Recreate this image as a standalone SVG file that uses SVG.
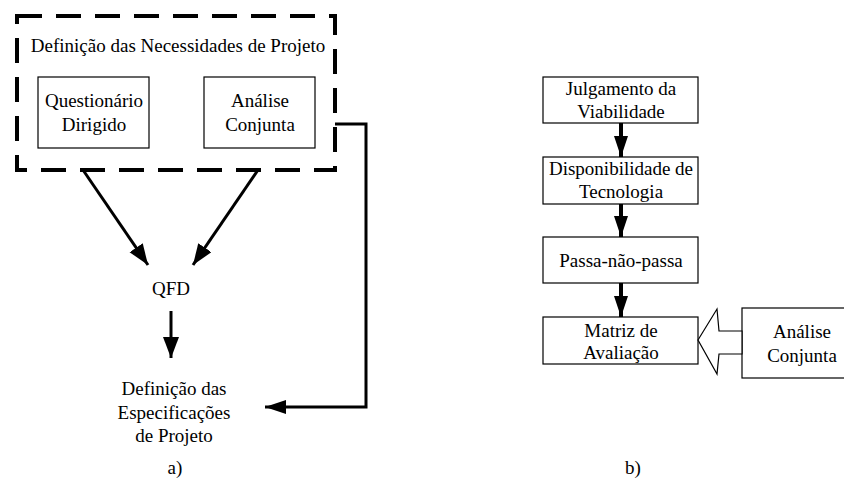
<svg xmlns="http://www.w3.org/2000/svg" width="844" height="491" viewBox="0 0 844 491" font-family="'Liberation Serif', 'Times New Roman', Times, 'DejaVu Serif', serif">
<style>
text{font-family:'Liberation Serif','Times New Roman',Times,'DejaVu Serif',serif;font-size:19px;fill:#000;text-anchor:middle}
.box{fill:#fff;stroke:#000;stroke-width:1.2}
.c{fill:none;stroke:#000;stroke-width:3}
.c4{fill:none;stroke:#000;stroke-width:4}
</style>
<defs>
<marker id="ah" markerUnits="userSpaceOnUse" markerWidth="22" markerHeight="18" refX="21" refY="8" orient="auto">
<path d="M0,0 L21,8 L0,16 Z" fill="#000"/>
</marker>
<marker id="ah2" markerUnits="userSpaceOnUse" markerWidth="22" markerHeight="16" refX="21" refY="7" orient="auto">
<path d="M0,0 L21,7 L0,14 Z" fill="#000"/>
</marker>
</defs>
<rect x="0" y="0" width="844" height="491" fill="#fff"/>
<g id="a-group">
<rect x="17" y="16" width="318" height="154" fill="none" stroke="#000" stroke-width="4" stroke-dasharray="25 14"/>
<text x="178" y="52">Definição das Necessidades de Projeto</text>
</g>
<g id="questionario">
<rect class="box" x="38" y="77" width="111" height="71"/>
<text x="94" y="107">Questionário</text>
<text x="94" y="131">Dirigido</text>
</g>
<g id="analise-a">
<rect class="box" x="204" y="77" width="111" height="71"/>
<text x="260" y="107">Análise</text>
<text x="260" y="131">Conjunta</text>
</g>
<g id="qfd"><text x="171" y="295">QFD</text></g>
<g id="especificacoes">
<text x="174" y="395">Definição das</text>
<text x="174" y="419">Especificações</text>
<text x="174" y="442">de Projeto</text>
</g>
<g id="label-a"><text x="175" y="474">a)</text></g>
<g id="julgamento">
<rect class="box" x="543" y="77" width="155" height="46"/>
<text x="621" y="95">Julgamento da</text>
<text x="621" y="118">Viabilidade</text>
</g>
<g id="disponibilidade">
<rect class="box" x="543" y="157" width="155" height="47"/>
<text x="621" y="175">Disponibilidade de</text>
<text x="621" y="198">Tecnologia</text>
</g>
<g id="passa">
<rect class="box" x="543" y="237" width="155" height="46"/>
<text x="621" y="267">Passa-não-passa</text>
</g>
<g id="matriz">
<rect class="box" x="543" y="317" width="155" height="47"/>
<text x="621" y="337">Matriz de</text>
<text x="621" y="359">Avaliação</text>
</g>
<g id="analise-b">
<rect class="box" x="742" y="308" width="104" height="70"/>
<text x="802" y="338">Análise</text>
<text x="802" y="362">Conjunta</text>
</g>
<g id="label-b"><text x="633" y="474">b)</text></g>
<g id="connectors">
<line class="c" x1="83" y1="170" x2="148" y2="265" marker-end="url(#ah)"/>
<line class="c" x1="258" y1="170" x2="193" y2="265" marker-end="url(#ah)"/>
<line class="c" x1="171" y1="311" x2="171" y2="358" marker-end="url(#ah)"/>
<polyline class="c" points="335,124 366,124 366,407 265,407" marker-end="url(#ah2)"/>
<line class="c4" x1="621" y1="123" x2="621" y2="157" marker-end="url(#ah2)"/>
<line class="c4" x1="621" y1="204" x2="621" y2="237" marker-end="url(#ah2)"/>
<line class="c4" x1="621" y1="283" x2="621" y2="317" marker-end="url(#ah2)"/>
<polygon points="698,340 717,309 719,331 742,331 742,354 719,354 717,374" fill="#fff" stroke="#000" stroke-width="1.2"/>
</g>
</svg>
